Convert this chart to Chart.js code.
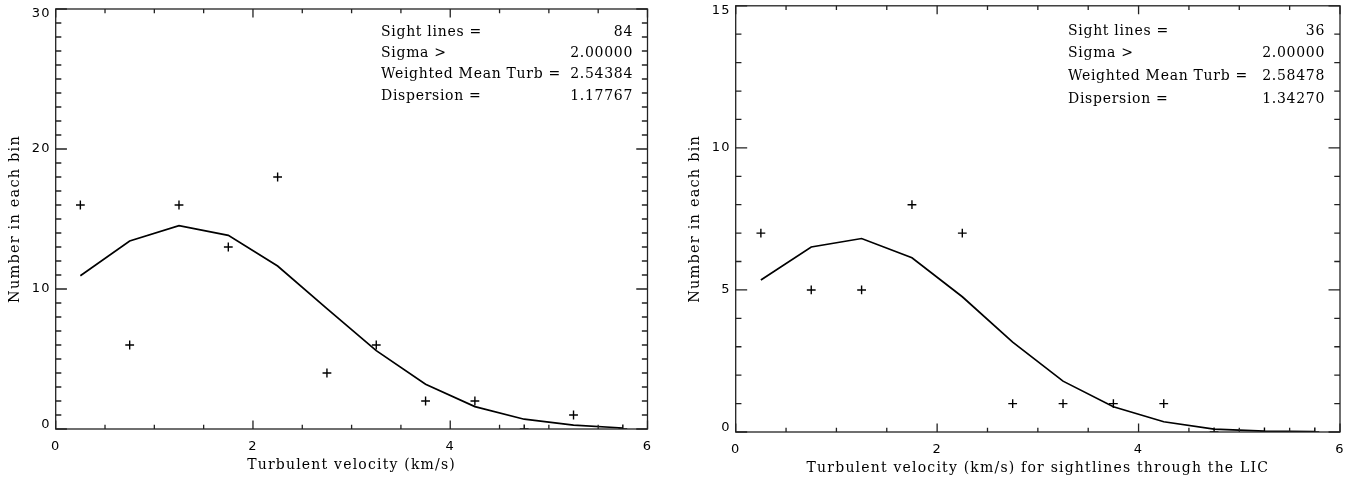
<!DOCTYPE html>
<html>
<head>
<meta charset="utf-8">
<script src="https://cdn.jsdelivr.net/npm/chart.js@4.4.1/dist/chart.umd.min.js"></script>
<style>
  html, body { margin: 0; padding: 0; background: #fff; }
  body { width: 1367px; height: 483px; position: relative; overflow: hidden; }
  canvas { position: absolute; top: 0; }
  #allChart { left: 0; }
  #licChart { left: 680px; }
</style>
</head>
<body>
<canvas id="allChart" width="680" height="483"></canvas>
<canvas id="licChart" width="687" height="483"></canvas>
<script>
// bin centres (km/s) and counts
const binCenters = [0.25, 0.75, 1.25, 1.75, 2.25, 2.75, 3.25, 3.75, 4.25, 4.75, 5.25, 5.75];
const allCounts = [16, 6, 16, 13, 18, 4, 6, 2, 2, 0, 1, 0];
const allFit = [10.95, 13.43, 14.52, 13.83, 11.64, 8.6, 5.6, 3.2, 1.6, 0.7, 0.28, 0.07];
const licCounts = [7, 5, 5, 8, 7, 1, 1, 1, 1, 0, 0, 0];
const licFit = [5.35, 6.51, 6.81, 6.13, 4.76, 3.16, 1.79, 0.89, 0.36, 0.1, 0.03, 0.01];

const xTicks = [0, 2, 4, 6];
const allYTicks = [0, 10, 20, 30];
const licYTicks = [0, 5, 10, 15];

const statLabels = ['Sight lines =', 'Sigma >', 'Weighted Mean Turb =', 'Dispersion ='];
const allStatValues = ['84', '2.00000', '2.54384', '1.17767'];
const licStatValues = ['36', '2.00000', '2.58478', '1.34270'];

const xTitleAll = 'Turbulent velocity (km/s)';
const xTitleLic = 'Turbulent velocity (km/s) for sightlines through the LIC';
const yTitle = 'Number in each bin';

const ink = '#000';
const axisInk = '#222';

// IDL style box: frame plus inward major/minor ticks on all four sides
const idlFrame = {
    id: 'idlFrame',
    beforeDraw(chart) {
        // the original vector font is wide, spread the letters a bit
        chart.ctx.letterSpacing = '1.2px';
    },
    afterDraw(chart, args, opts) {
        const { ctx, chartArea: a, scales: { x, y } } = chart;
        const w = a.right - a.left, h = a.bottom - a.top;
        ctx.save();
        ctx.strokeStyle = axisInk;
        ctx.lineWidth = 1.3;
        ctx.strokeRect(a.left, a.top, w, h);
        ctx.beginPath();
        // x ticks, top and bottom
        const nx = Math.round((x.max - x.min) / opts.xMinor);
        for (let i = 0; i <= nx; i++) {
            const v = x.min + i * opts.xMinor;
            const px = x.getPixelForValue(v);
            const len = xTicks.includes(v) ? h * 0.02 : h * 0.01;
            ctx.moveTo(px, a.bottom); ctx.lineTo(px, a.bottom - len);
            ctx.moveTo(px, a.top); ctx.lineTo(px, a.top + len);
        }
        // y ticks, left and right
        const ny = Math.round((y.max - y.min) / opts.yMinor);
        for (let i = 0; i <= ny; i++) {
            const v = y.min + i * opts.yMinor;
            const py = y.getPixelForValue(v);
            const len = opts.yMajor.includes(v) ? w * 0.019 : w * 0.0095;
            ctx.moveTo(a.left, py); ctx.lineTo(a.left + len, py);
            ctx.moveTo(a.right, py); ctx.lineTo(a.right - len, py);
        }
        ctx.stroke();

        // statistics block in the upper right
        ctx.fillStyle = ink;
        ctx.font = '14px "DejaVu Serif"';
        ctx.letterSpacing = '0.7px';
        ctx.textBaseline = 'alphabetic';
        opts.labels.forEach((t, i) => {
            const ty = a.top + opts.rows[i];
            ctx.textAlign = 'left';
            ctx.fillText(t, a.left + opts.labelX, ty);
            ctx.textAlign = 'right';
            ctx.fillText(opts.values[i], a.right - opts.valueX, ty);
        });
        ctx.restore();
    }
};

function makePanel(id, counts, fit, yTicks, values, xTitle, p) {
    const yMax = yTicks[yTicks.length - 1];
    return new Chart(document.getElementById(id), {
        type: 'scatter',
        data: {
            datasets: [
                {
                    type: 'line',
                    data: binCenters.map((v, i) => ({ x: v, y: fit[i] })),
                    borderColor: ink,
                    borderWidth: 1.7,
                    pointRadius: 0,
                    tension: 0,
                    fill: false
                },
                {
                    data: binCenters.map((v, i) => ({ x: v, y: counts[i] })),
                    pointStyle: 'cross',
                    pointRadius: 4.4,
                    borderColor: ink,
                    borderWidth: 1.4,
                    showLine: false,
                    clip: 0
                }
            ]
        },
        options: {
            responsive: false,
            animation: false,
            events: [],
            layout: { padding: { left: 0, right: p.padRight, top: p.padTop, bottom: 0 } },
            plugins: {
                legend: { display: false },
                tooltip: { enabled: false },
                idlFrame: {
                    xMinor: 0.5, yMinor: 1, yMajor: yTicks,
                    labels: statLabels, values: values,
                    rows: p.rows, labelX: p.labelX, valueX: p.valueX
                }
            },
            scales: {
                x: {
                    type: 'linear', min: 0, max: 6,
                    afterBuildTicks: s => { s.ticks = xTicks.map(v => ({ value: v })); },
                    afterFit: s => { s.height = p.xHeight; s.paddingLeft = 0; s.paddingRight = 0; },
                    grid: { display: false, drawTicks: false },
                    border: { display: false },
                    ticks: {
                        padding: 9.5, maxRotation: 0, autoSkip: false, color: ink,
                        font: { family: 'DejaVu Sans', size: 13 }
                    },
                    title: {
                        display: true, text: xTitle, color: ink,
                        font: { family: 'DejaVu Serif', size: 14 },
                        padding: { top: 0, bottom: p.xTitlePad }
                    }
                },
                y: {
                    type: 'linear', min: 0, max: yMax,
                    afterBuildTicks: s => { s.ticks = yTicks.map(v => ({ value: v })); },
                    afterFit: s => { s.width = p.yWidth; s.paddingTop = 0; s.paddingBottom = 0; },
                    grid: { display: false, drawTicks: false },
                    border: { display: false },
                    ticks: {
                        padding: 5, color: ink,
                        font: { family: 'DejaVu Sans', size: 13, lineHeight: '9px' },
                        // end labels sit a little inside the box, as in the original
                        callback: v => v === yMax ? ['', String(v)] : v === 0 ? [String(v), ''] : String(v)
                    },
                    title: {
                        display: true, text: yTitle, color: ink,
                        font: { family: 'DejaVu Serif', size: 14.5 },
                        padding: { top: 7, bottom: 0 }
                    }
                }
            }
        },
        plugins: [idlFrame]
    });
}

makePanel('allChart', allCounts, allFit, allYTicks, allStatValues, xTitleAll, {
    padRight: 32.5, padTop: 9, xHeight: 54, yWidth: 55.7, xTitlePad: 9.6,
    rows: [27, 48.3, 69.3, 91], labelX: 325.3, valueX: 14.5
});
makePanel('licChart', licCounts, licFit, licYTicks, licStatValues, xTitleLic, {
    padRight: 27, padTop: 3.3, xHeight: 51, yWidth: 55.7, xTitlePad: 6,
    rows: [29, 50.7, 74.4, 96.7], labelX: 332.3, valueX: 15
});
</script>
</body>
</html>
